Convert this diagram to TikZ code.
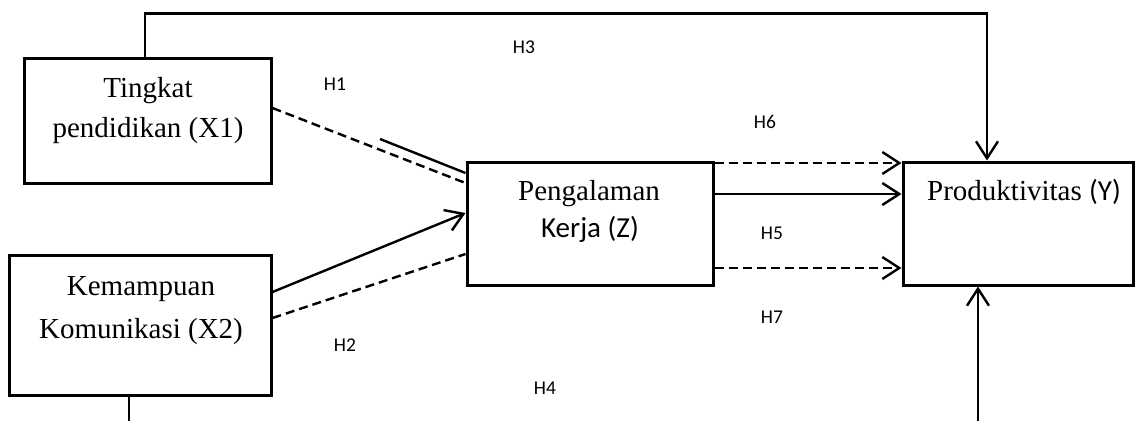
\documentclass[tikz,border=0pt]{standalone}
\usepackage{fontspec}
\setmainfont{Liberation Serif}
\newfontfamily\labelfont{Carlito}
\usetikzlibrary{arrows.meta}
\begin{document}
\begin{tikzpicture}[x=1pt,y=-1pt,
  box/.style={draw, line width=3pt, inner sep=0pt},
  conn/.style={line width=2.4pt},
  dashconn/.style={conn, dash pattern=on 9pt off 5pt},
  tip/.style={-{Straight Barb[length=17pt,width=22pt,line width=2.4pt]}},
  serif/.style={font=\fontsize{29}{40}\selectfont, inner sep=0pt, anchor=base},
  hyp/.style={font=\labelfont\fontsize{19.5}{22}\selectfont, inner sep=0pt}]
\useasboundingbox (0,0) rectangle (1141,421);

% variables
\node[box, minimum width=247pt, minimum height=125pt] (x1) at (147.5,120.5) {};
\node[box, minimum width=262pt, minimum height=140pt] (x2) at (140,325) {};
\node[box, minimum width=246pt, minimum height=123pt] (z) at (590,223.5) {};
\node[box, minimum width=230pt, minimum height=123pt] (y) at (1018,223.5) {};

% box captions
\node[serif] (t1a) at (148,97) {Tingkat};
\node[serif] (t1b) at (148,137) {pendidikan (X1)};
\node[serif] (t2a) at (141,295) {Kemampuan};
\node[serif] (t2b) at (141,338) {Komunikasi (X2)};
\node[serif] (tza) at (589,200) {Pengalaman};
\node[serif] (tzb) at (590,237) {\labelfont Kerja (Z)};
\node[serif] (ty) at (1024,200) {Produktivitas {\labelfont (Y)}};

% hypothesis labels
\node[hyp] (h1) at (335,84) {H1};
\node[hyp] (h2) at (345,345) {H2};
\node[hyp] (h3) at (524,47) {H3};
\node[hyp] (h4) at (545,388) {H4};
\node[hyp] (h5) at (772,233) {H5};
\node[hyp] (h6) at (765,122) {H6};
\node[hyp] (h7) at (772,317) {H7};

% loose ends
\coordinate (h1s) at (380,139);
\coordinate (b1) at (129,421);
\coordinate (b2) at (978,421);

% X1 -> Z
\draw[dashconn] ([yshift=12.5pt]x1.east) -- ([yshift=40.5pt]z.west);
\draw[conn] (h1s) -- ([yshift=50.5pt]z.west);
% X2 -> Z
\draw[conn,tip] ([yshift=33pt]x2.east) -- ([yshift=10.5pt]z.west);
\draw[dashconn] ([yshift=7pt]x2.east) -- ([yshift=-30.5pt]z.west);
% Z -> Y
\draw[dashconn,tip] ([yshift=60.5pt]z.east) -- ([yshift=60.5pt]y.west);
\draw[conn,tip] ([yshift=29.5pt]z.east) -- ([yshift=29.5pt]y.west);
\draw[dashconn,tip] ([yshift=-44.5pt]z.east) -- ([yshift=-44.5pt]y.west);
% X1 -> Y over the top
\draw[conn,tip] ([xshift=-2.5pt]x1.north) -- ++(0,-43) -| ([xshift=-31pt]y.north);
% X2 -> Y along the bottom
\draw[conn] ([xshift=-11pt]x2.south) -- (b1);
\draw[conn,tip] (b2) -- ([xshift=-40pt]y.south);
\end{tikzpicture}
\end{document}
